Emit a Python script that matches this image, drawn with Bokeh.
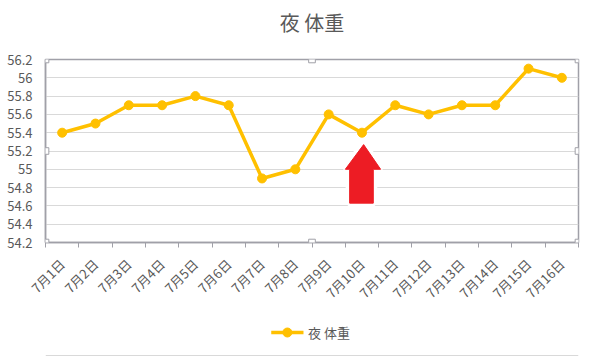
import math
from bokeh.plotting import figure
from bokeh.layouts import column
from bokeh.core.properties import value
from bokeh.models import (ColumnDataSource, FixedTicker, NumeralTickFormatter, Range1d,
                          BoxAnnotation)
from bokeh.embed import file_html
from bokeh.resources import INLINE

categories = ["7月1日", "7月2日", "7月3日", "7月4日", "7月5日", "7月6日", "7月7日", "7月8日",
              "7月9日", "7月10日", "7月11日", "7月12日", "7月13日", "7月14日", "7月15日", "7月16日"]
weights = [55.4, 55.5, 55.7, 55.7, 55.8, 55.7, 54.9, 55.0, 55.6, 55.4, 55.7, 55.6, 55.7, 55.7, 56.1, 56.0]
y_ticks = [54.2, 54.4, 54.6, 54.8, 55.0, 55.2, 55.4, 55.6, 55.8, 56.0, 56.2]
series_name = "夜 体重"
title_text = "夜 体重"

# red arrow annotation (data coordinates: category index, weight)
arrow_xs = [9.55, 10.06, 9.84, 9.84, 9.13, 9.13, 9.0]
arrow_ys = [55.27, 55.0, 55.0, 54.63, 54.63, 55.0, 55.0]

FONT = "Noto Sans CJK JP"
TXT = "#595959"
FRAME = "#a0a0a8"
LINE_C = "#FFC000"
W = 595


def strip(height):
    f = figure(width=W, height=height, output_backend="svg", toolbar_location=None,
               x_range=Range1d(0, W), y_range=Range1d(height, 0), min_border=0)
    f.axis.visible = False
    f.grid.visible = False
    f.outline_line_color = None
    f.border_fill_color = "white"
    f.background_fill_color = "white"
    return f


# title strip
t = strip(45)
t.text(x=[W / 2], y=[22], text=[title_text], text_align="center", text_baseline="middle",
       text_font=value(FONT), text_font_size="20px", text_color=TXT)

xs = [i + 0.5 for i in range(len(categories))]
src = ColumnDataSource(dict(x=xs, y=weights))

p = figure(width=W, height=267,
           output_backend="svg", toolbar_location=None,
           x_range=Range1d(0, len(categories)), y_range=Range1d(y_ticks[0], y_ticks[-1]),
           min_border_left=45, min_border_right=17, min_border_top=14, min_border_bottom=70)

p.outline_line_color = FRAME
p.outline_line_width = 1.5
p.background_fill_color = "white"
p.border_fill_color = "white"

p.xgrid.visible = False
p.ygrid.grid_line_color = "#d9d9d9"
p.ygrid.grid_line_width = 1
p.yaxis.ticker = FixedTicker(ticks=y_ticks)
p.yaxis.formatter = NumeralTickFormatter(format="0.[0]")
p.yaxis.major_tick_line_color = None
p.yaxis.minor_tick_line_color = None
p.yaxis.axis_line_color = FRAME
p.yaxis.axis_line_width = 1.5
p.yaxis.major_label_text_font = FONT
p.yaxis.major_label_text_font_size = "13px"
p.yaxis.major_label_text_color = TXT
p.yaxis.major_label_standoff = 7

p.xaxis.ticker = FixedTicker(ticks=xs, minor_ticks=list(range(len(categories) + 1)))
p.xaxis.major_label_overrides = {x: c for x, c in zip(xs, categories)}
p.xaxis.major_tick_line_color = None
p.xaxis.minor_tick_line_color = FRAME
p.xaxis.minor_tick_in = 0
p.xaxis.minor_tick_out = 5
p.xaxis.axis_line_color = FRAME
p.xaxis.axis_line_width = 1.5
p.xaxis.major_label_orientation = math.pi / 4
p.xaxis.major_label_text_font = FONT
p.xaxis.major_label_text_font_size = "13px"
p.xaxis.major_label_text_color = TXT
p.xaxis.major_label_standoff = 13

# arrow
p.patch(arrow_xs, arrow_ys, fill_color="#ED1C24", line_color="white", line_width=8)
p.patch(arrow_xs, arrow_ys, fill_color="#ED1C24", line_color="#ED1C24", line_width=1)

p.line("x", "y", source=src, line_color=LINE_C, line_width=3.5)
p.scatter("x", "y", source=src, size=9, fill_color=LINE_C, line_color=LINE_C)

# selection handles around plot area
hx = [0, len(categories) / 2, len(categories)]
hy = [y_ticks[0], (y_ticks[0] + y_ticks[-1]) / 2, y_ticks[-1]]
dx, dy = 0.1, 0.036
for i, x in enumerate(hx):
    for j, y in enumerate(hy):
        if i == 1 and j == 1:
            continue
        p.add_layout(BoxAnnotation(left=x - dx, right=x + dx, bottom=y - dy, top=y + dy,
                                   fill_color="white", fill_alpha=1, line_color=FRAME,
                                   line_width=1, line_alpha=1))

# legend strip
lg = strip(44)
lg.line(x=[252, 288], y=[20, 20], line_color=LINE_C, line_width=3.5)
lg.scatter(x=[270], y=[20], size=9, fill_color=LINE_C, line_color=LINE_C)
lg.text(x=[293], y=[20], text=[series_name], text_align="left", text_baseline="middle",
        text_font=value(FONT), text_font_size="13px", text_color=TXT)
lg.line(x=[0, W], y=[43, 43], line_color="#d9d9d9", line_width=1)

layout = column(t, p, lg, spacing=0)
open("out.html", "w").write(file_html(layout, INLINE))
